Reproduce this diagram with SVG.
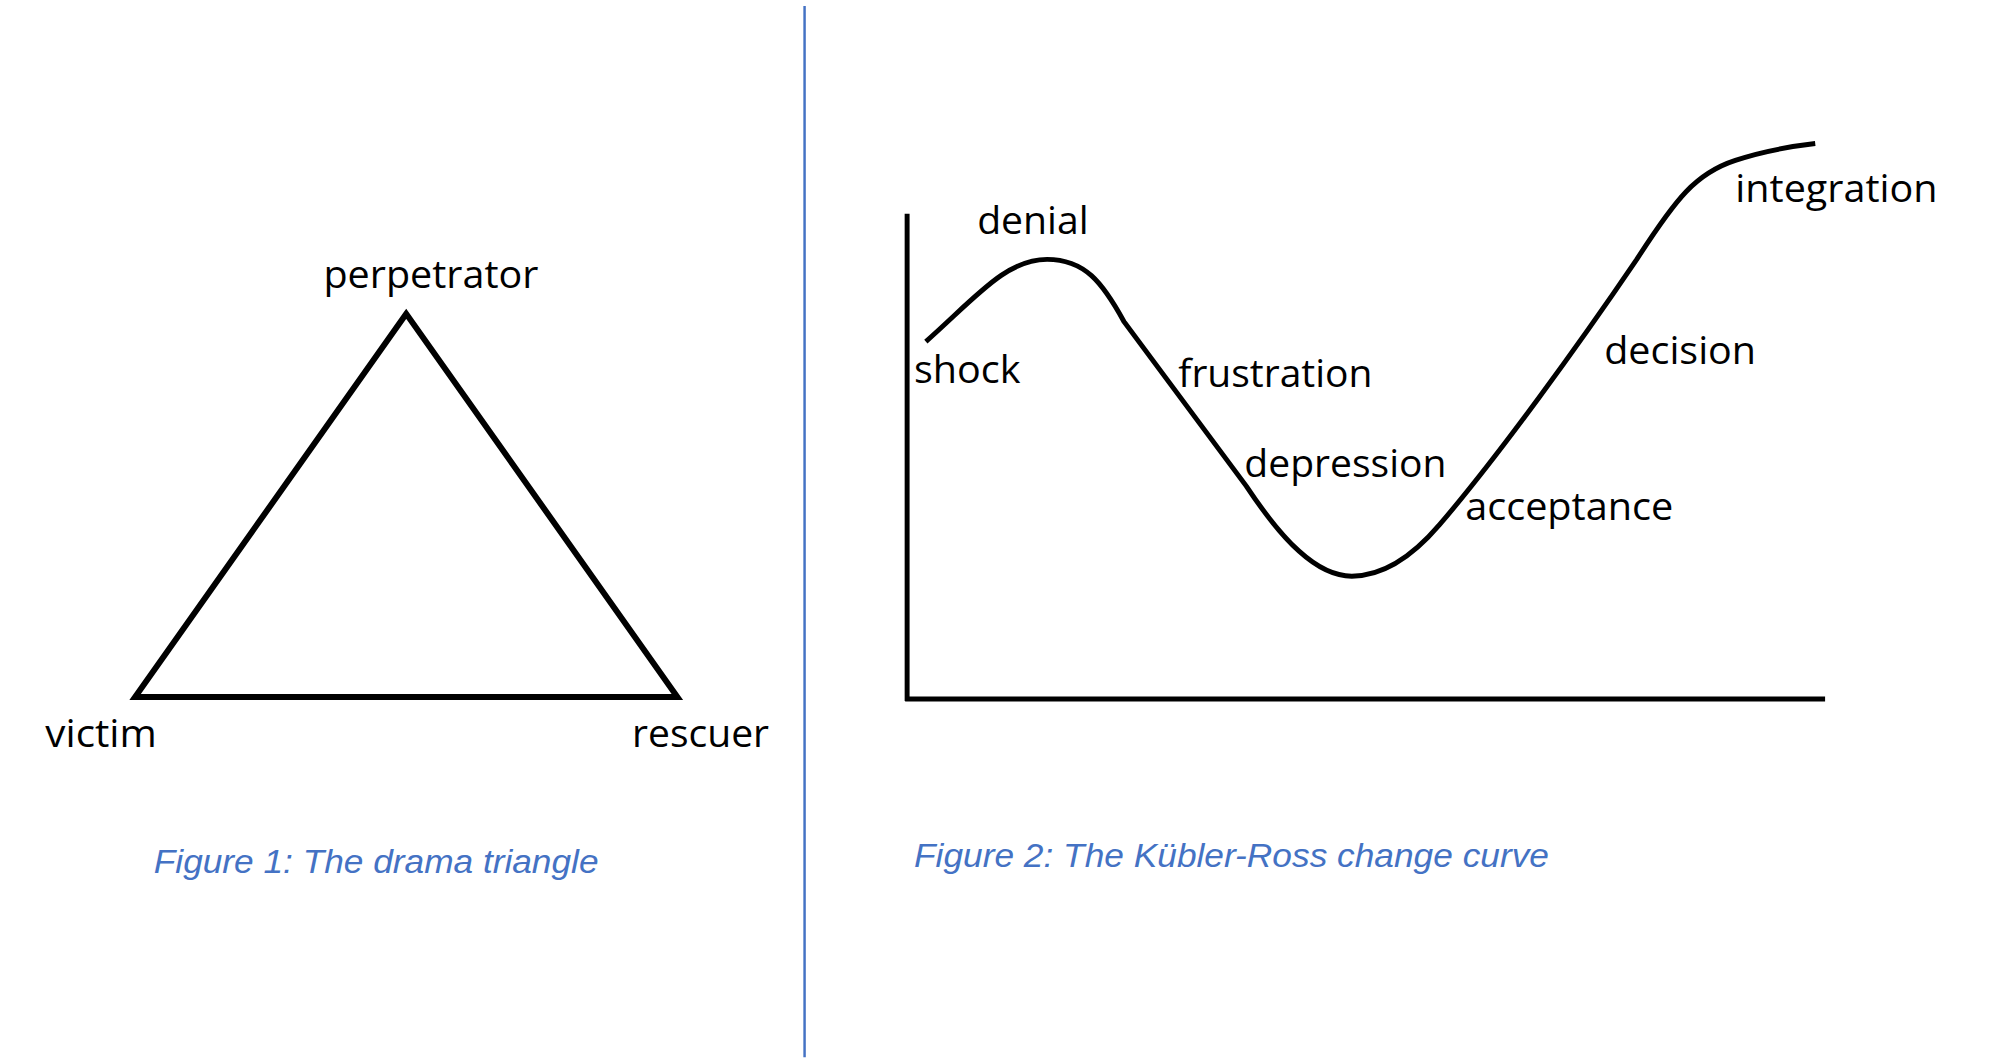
<svg xmlns="http://www.w3.org/2000/svg" width="2014" height="1060" viewBox="0 0 2014 1060">
<style>
.l{font-family:"Open Sans","Liberation Sans",sans-serif;font-size:38px;fill:#000}
.c{font-family:"Liberation Sans",Arial,sans-serif;font-size:34px;font-style:italic;fill:#4472c4}
.s{fill:none;stroke:#000;stroke-width:6;stroke-linejoin:miter}
</style>
<rect width="2014" height="1060" fill="#fff"/>
<g transform="scale(0.986,0.99)">
<line x1="816" y1="6" x2="816" y2="1068" stroke="#4472c4" stroke-width="2.5"/>
<g id="triangle">
<polygon class="s" points="412,317 137,704 687,704"/>
</g>
<g id="perpetrator"><text class="l" x="328" y="291" textLength="218" lengthAdjust="spacingAndGlyphs">perpetrator</text></g>
<g id="victim"><text class="l" x="46" y="755" textLength="113" lengthAdjust="spacingAndGlyphs">victim</text></g>
<g id="rescuer"><text class="l" x="641" y="755" textLength="139" lengthAdjust="spacingAndGlyphs">rescuer</text></g>
<g id="caption1"><text class="c" x="156" y="882" textLength="451" lengthAdjust="spacingAndGlyphs">Figure 1: The drama triangle</text></g>
<g id="connectors">
<line x1="920" y1="216" x2="920" y2="708" stroke="#000" stroke-width="5"/>
<line x1="918" y1="706" x2="1851" y2="706" stroke="#000" stroke-width="5"/>
<path fill="none" stroke="#000" stroke-width="5" d="M939,345 C990,300 1020,262 1062,262 C1100,262 1118,285 1140,325 L1264,491 C1300,545 1335,582 1371,582 C1400,582 1430,565 1460,530 C1520,460 1600,350 1660,262 C1700,200 1720,175 1760,162 C1790,152 1815,148 1841,145"/>
</g>
<g id="denial"><text class="l" x="991" y="236" textLength="113" lengthAdjust="spacingAndGlyphs">denial</text></g>
<g id="shock"><text class="l" x="927" y="387" textLength="108" lengthAdjust="spacingAndGlyphs">shock</text></g>
<g id="frustration"><text class="l" x="1195" y="391" textLength="197" lengthAdjust="spacingAndGlyphs">frustration</text></g>
<g id="depression"><text class="l" x="1262" y="482" textLength="205" lengthAdjust="spacingAndGlyphs">depression</text></g>
<g id="acceptance"><text class="l" x="1486" y="525" textLength="211" lengthAdjust="spacingAndGlyphs">acceptance</text></g>
<g id="decision"><text class="l" x="1627" y="368" textLength="154" lengthAdjust="spacingAndGlyphs">decision</text></g>
<g id="integration"><text class="l" x="1760" y="204" textLength="205" lengthAdjust="spacingAndGlyphs">integration</text></g>
<g id="caption2"><text class="c" x="927" y="876" textLength="644" lengthAdjust="spacingAndGlyphs">Figure 2: The Kübler-Ross change curve</text></g>
</g>
</svg>
